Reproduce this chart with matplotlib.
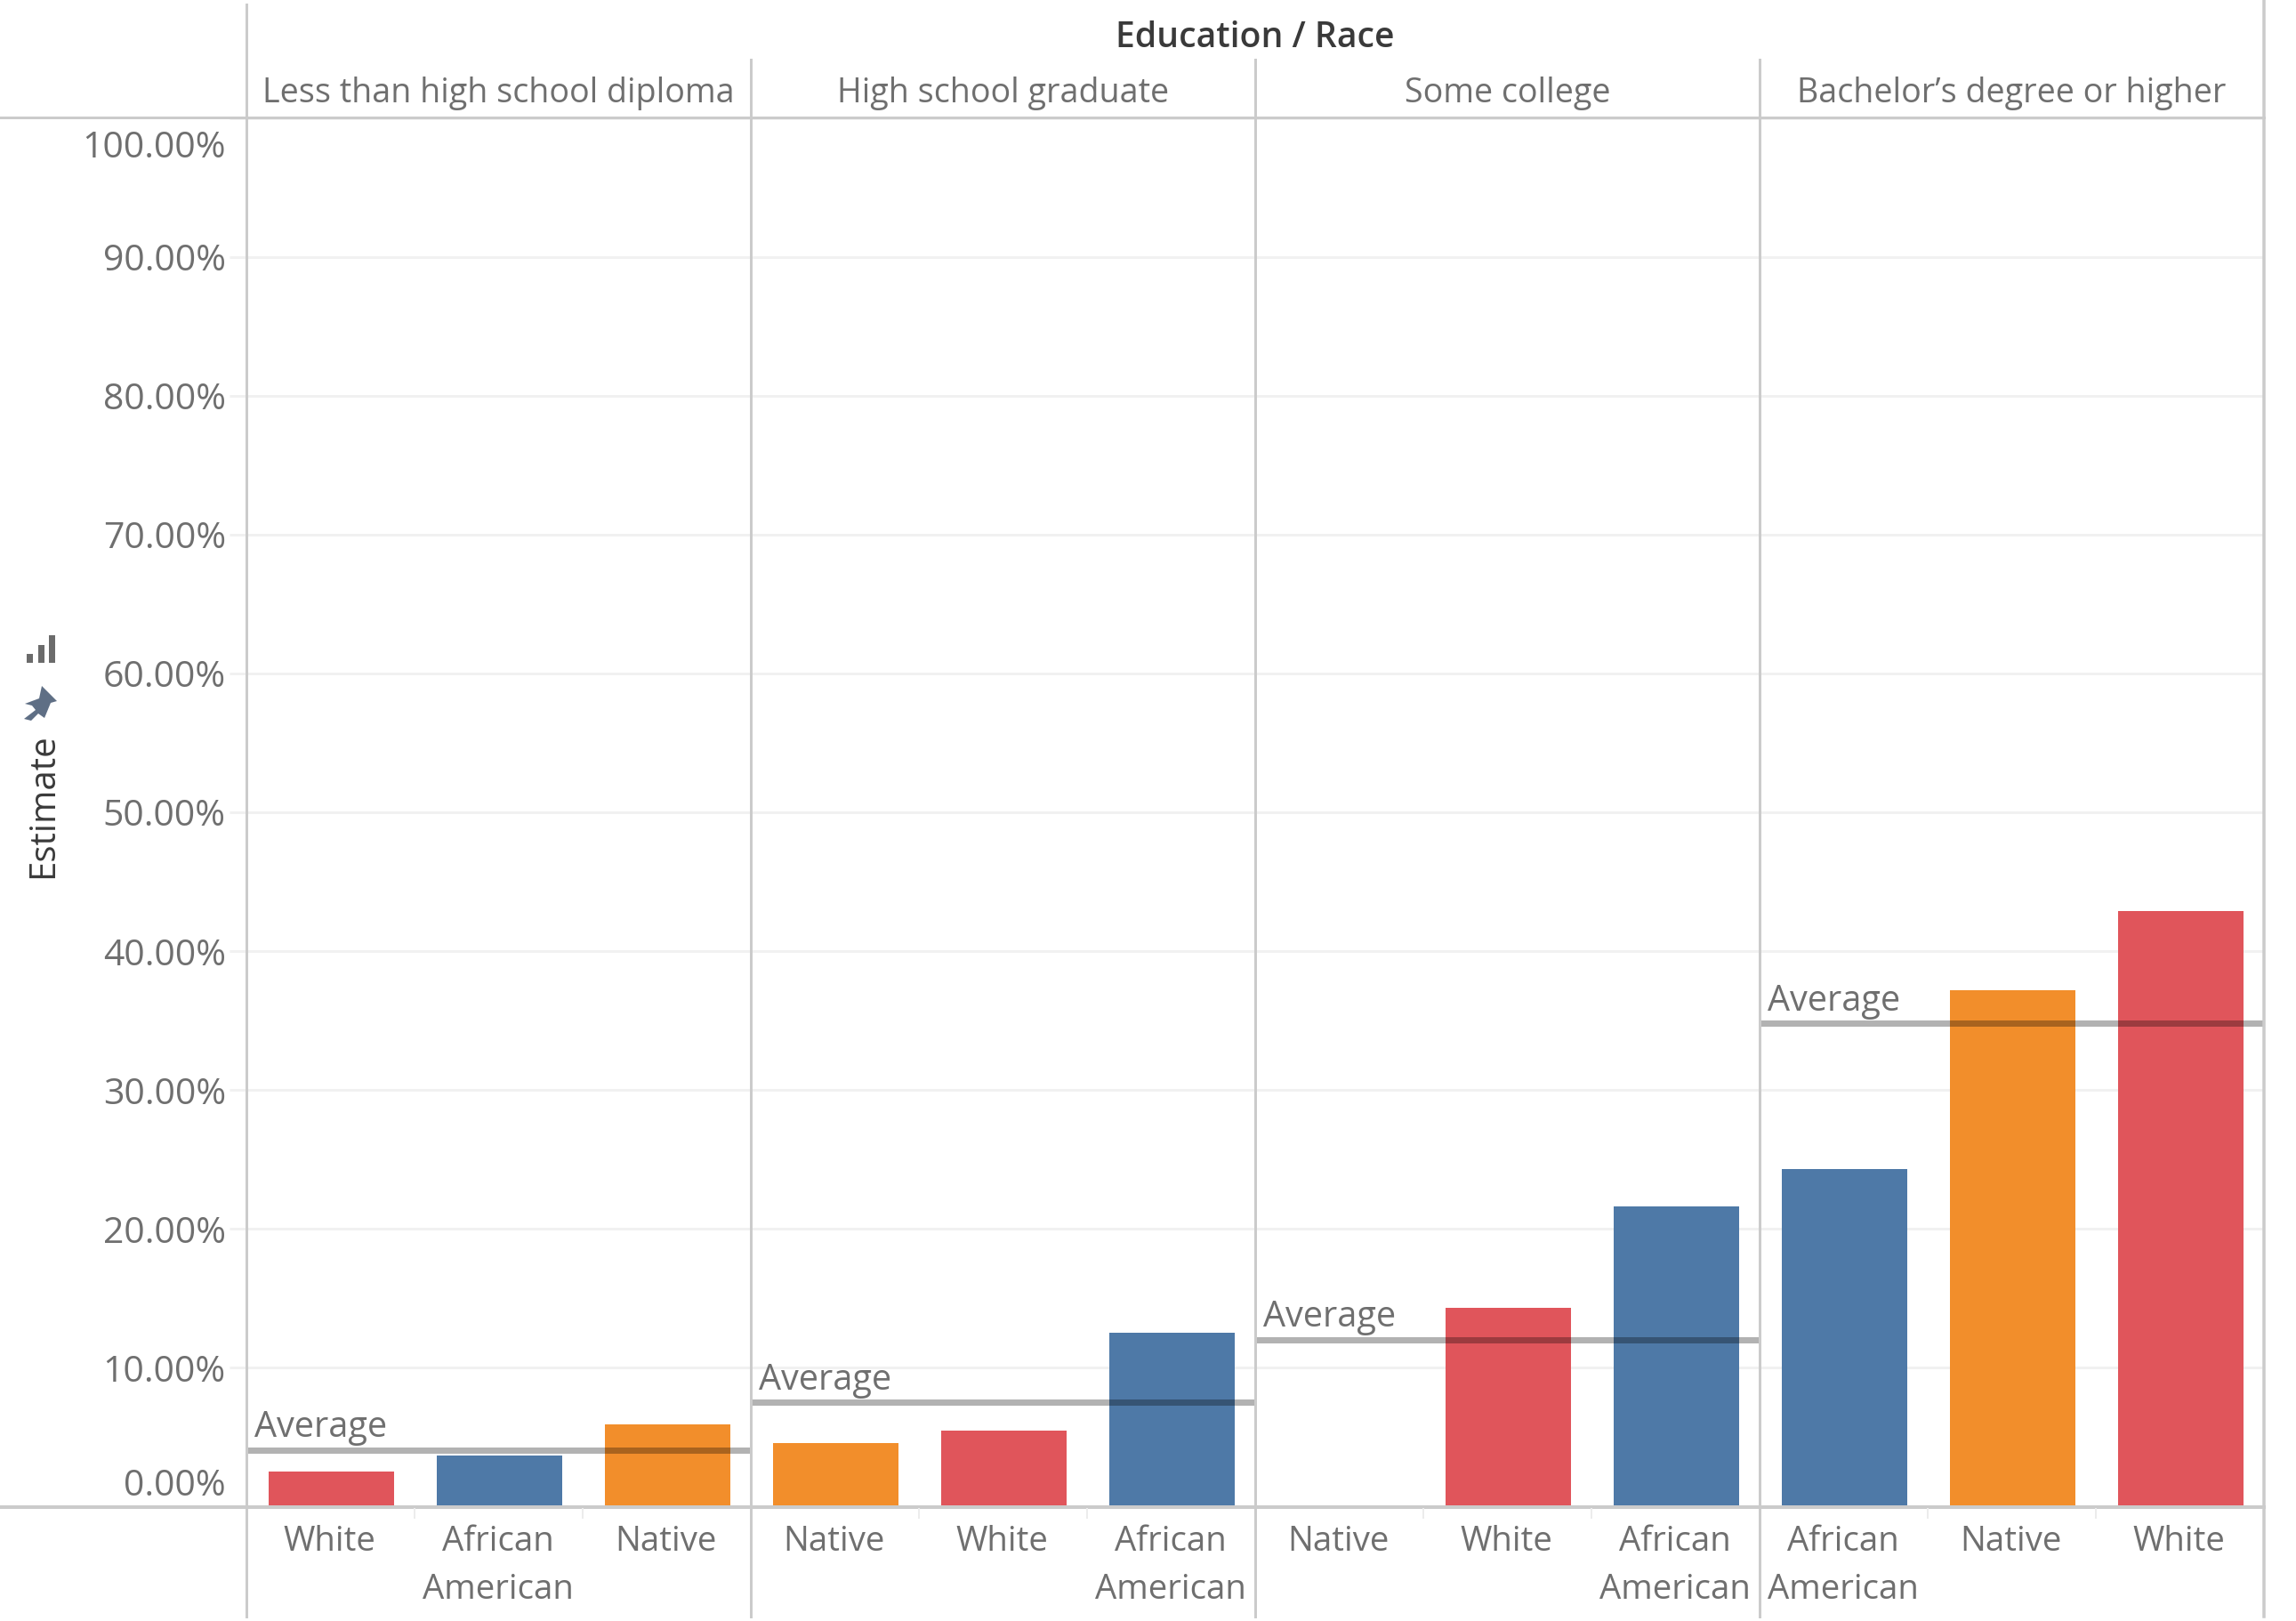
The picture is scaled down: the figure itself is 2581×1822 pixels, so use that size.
import matplotlib
matplotlib.use("Agg")
import matplotlib.pyplot as plt
from matplotlib.patches import Polygon, Rectangle
from matplotlib.transforms import Affine2D

plt.rcParams['font.family'] = ['Open Sans', 'DejaVu Sans']

W, H = 2581, 1822
DPI = 100

education = ["Less than high school diploma", "High school graduate",
             "Some college", "Bachelor\u2019s degree or higher"]
races = [["White", "African\nAmerican", "Native"],
         ["Native", "White", "African\nAmerican"],
         ["Native", "White", "African\nAmerican"],
         ["African\nAmerican", "Native", "White"]]
estimates = [[2.5, 3.7, 5.9],
             [4.6, 5.5, 12.55],
             [0.0, 14.35, 21.6],
             [24.3, 37.2, 42.9]]
averages = [4.1, 7.5, 12.0, 34.8]
yticks = [0, 10, 20, 30, 40, 50, 60, 70, 80, 90, 100]
colors = {"White": "#E0555B", "African\nAmerican": "#4E79A7", "Native": "#F28E2B"}

TXT = "#6f6f6f"
DARK = "#3a3a3a"
FS_TICK = 29.5
FS_X = 27.6
FS_AVG = 28.5
LINE = "#cbcbcb"
GRID = "#f1f1f1"
px = 72 / DPI

fig = plt.figure(figsize=(W / DPI, H / DPI), dpi=DPI, facecolor="white")

X0, PW, Y0, YB = 277.0, 567.0, 133.0, 1693.5
axes = []
for i in range(4):
    ax = fig.add_axes([(X0 + i * PW) / W, 1 - YB / H, PW / W, (YB - Y0) / H])
    axes.append(ax)
    ax.set_xlim(-0.505, 2.495)
    ax.set_ylim(0, 100)
    ax.patch.set_alpha(0)
    for s in ax.spines.values():
        s.set_visible(False)
    ax.set_yticks(yticks)
    ax.grid(axis="y", color=GRID, lw=3 * px, zorder=0)
    ax.set_axisbelow(True)
    for j, (r, v) in enumerate(zip(races[i], estimates[i])):
        ax.bar(j, v, width=0.75, color=colors[r], zorder=2)
    ax.axhline(averages[i], color="#000000", alpha=0.3, lw=7 * px, zorder=3)
    ax.annotate("Average", xy=(0, averages[i]), xycoords=ax.get_yaxis_transform(),
                xytext=(9, 25), textcoords="offset pixels", ha="left", va="center",
                fontsize=FS_AVG, color=TXT, zorder=4)
    ax.set_xticks([0, 1, 2])
    ax.set_xticklabels(races[i], fontsize=FS_X, color=TXT, linespacing=1.55, ha="center")
    ax.tick_params(axis="x", length=0, pad=15)
    for tick in ax.xaxis.get_major_ticks():
        lab = tick.label1
        lab.set_transform(lab.get_transform() + Affine2D().translate(-2, 0))
    if i == 0:
        ax.set_yticklabels([f"{t:.2f}%" for t in yticks], fontsize=FS_TICK, color=TXT)
        ax.tick_params(axis="y", length=19 * px, width=3 * px, color=GRID, pad=3)
        ax.set_ylabel("Estimate", fontsize=29, color=DARK)
        ax.yaxis.set_label_coords((69 - X0) / PW, (YB - 906) / (YB - Y0))
        ticks = ax.yaxis.get_major_ticks()
        for tick, shift in ((ticks[0], 27.5), (ticks[-1], -29)):
            lab = tick.label1
            lab.set_transform(lab.get_transform() + Affine2D().translate(0, shift))
    else:
        ax.tick_params(axis="y", left=False, labelleft=False)

# Overlay in reference pixel coordinates for the table frame, headers and icons
ov = fig.add_axes([0, 0, 1, 1], zorder=5)
ov.set_xlim(0, W)
ov.set_ylim(H, 0)
ov.axis("off")
ov.patch.set_alpha(0)

ov.plot([0, 2545], [132, 132], color=LINE, lw=3 * px)
ov.plot([0, 2545], [1693.5, 1693.5], color=LINE, lw=4 * px)
ov.plot([X0, X0], [5, 1817], color=LINE, lw=3 * px)
ov.plot([2545, 2545], [0, 1817], color=LINE, lw=3.5 * px)
for i in (1, 2, 3):
    xs = X0 + i * PW
    ov.plot([xs, xs], [67, 1817], color=LINE, lw=3 * px)
for i in range(4):
    for j in (1, 2):
        xs = X0 + i * PW + j * PW / 3
        ov.plot([xs, xs], [1696, 1706], color="#ececec", lw=2 * px)
    ov.text(X0 + (i + 0.5) * PW, 104.5, education[i], ha="center", va="center",
            fontsize=27.1, color=TXT)
ov.text(1411, 43, "Education / Race", ha="center", va="center", fontsize=28.2,
        color=DARK, fontweight="semibold")

# Sort icon
for x, top in ((30, 735), (43, 725), (55, 714)):
    ov.add_patch(Rectangle((x, top), 6.5, 745 - top, color="#6b6b6b", lw=0))
# Pin icon
ov.add_patch(Polygon([(47, 771), (64, 788), (57, 790), (50, 807), (43, 802), (35, 810),
                      (27, 808), (40, 798), (36, 793), (28, 791), (44, 785)],
                     closed=True, color="#5f6f85", lw=0))

fig.savefig("out.png", dpi=DPI, facecolor="white")
